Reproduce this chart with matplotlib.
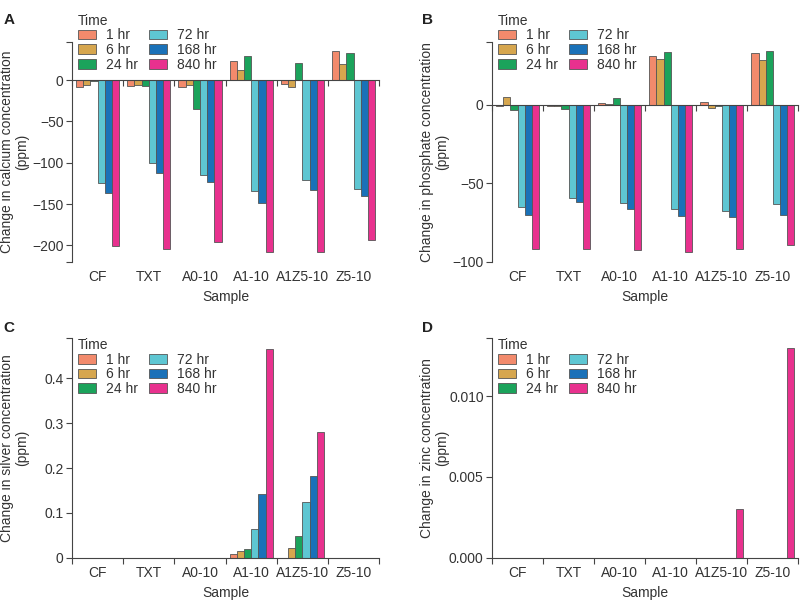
"""
Ion release over time per sample: calcium, phosphate, silver and zinc.
Four grouped bar panels (A-D), one bar per time point.
"""

import numpy as np
import matplotlib.pyplot as plt

plt.rcParams["font.family"] = ["Liberation Sans", "DejaVu Sans"]
plt.rcParams["font.size"] = 10

SAMPLES = ["CF", "TXT", "A0-10", "A1-10", "A1Z5-10", "Z5-10"]
TIMES = ["1 hr", "6 hr", "24 hr", "72 hr", "168 hr", "840 hr"]
COLORS = ["#F28A6C", "#D6A64E", "#1BA35B", "#5EC6D2", "#1A71B8", "#E8318E"]

# rows = time points, columns = samples
calcium = [
    [-8, -7.3, -8, 22.7, -4.5, 34.8],
    [-5.3, -5.3, -6, 11.7, -8.9, 19],
    [-1, -6.5, -34.8, 28.7, 20.6, 32.4],
    [-124.6, -100.3, -114.5, -134.3, -121.4, -131.9],
    [-136.3, -112.5, -123.4, -148.5, -133, -140.8],
    [-201, -205, -196, -208.3, -208, -193],
]
phosphate = [
    [-0.6, -0.6, 1.1, 31.4, 2.1, 33.3],
    [5.3, -1.0, 0.9, 29.3, -1.9, 28.8],
    [-3.4, -2.4, 4.7, 33.5, -0.6, 34.2],
    [-65.2, -59.6, -62.4, -66.2, -67.5, -63],
    [-70.1, -62, -66.5, -71, -71.4, -70.1],
    [-91.9, -91.9, -92.5, -94, -92.1, -89.5],
]
silver = [
    [0, 0, 0, 0.0074, 0, 0],
    [0, 0, 0, 0.0148, 0.0215, 0],
    [0, 0, 0, 0.019, 0.048, 0],
    [0, 0, 0, 0.063, 0.124, 0],
    [0, 0, 0, 0.142, 0.182, 0],
    [0, 0, 0, 0.465, 0.28, 0],
]
zinc = [
    [0, 0, 0, 0, 0, 0],
    [0, 0, 0, 0, 0, 0],
    [0, 0, 0, 0, 0, 0],
    [0, 0, 0, 0, 0, 0],
    [0, 0, 0, 0, 0, 0],
    [0, 0, 0, 0, 0.003, 0.0130],
]

calcium_ticks = [0, -50, -100, -150, -200]
calcium_ticklabels = ["0", "\u221250", "\u2212100", "\u2212150", "\u2212200"]
phosphate_ticks = [0, -50, -100]
phosphate_ticklabels = ["0", "\u221250", "\u2212100"]
silver_ticks = [0, 0.1, 0.2, 0.3, 0.4]
silver_ticklabels = ["0", "0.1", "0.2", "0.3", "0.4"]
zinc_ticks = [0, 0.005, 0.010]
zinc_ticklabels = ["0.000", "0.005", "0.010"]

PANELS = [
    ("A", calcium, "calcium", (-220, 46), calcium_ticks, calcium_ticklabels,
     [0.09, 0.565, 0.384, 0.365], 1.13),
    ("B", phosphate, "phosphate", (-100, 40), phosphate_ticks, phosphate_ticklabels,
     [0.615, 0.565, 0.383, 0.365], 1.13),
    ("C", silver, "silver", (0, 0.49), silver_ticks, silver_ticklabels,
     [0.09, 0.0736, 0.384, 0.365], 1.0),
    ("D", zinc, "zinc", (0, 0.0136), zinc_ticks, zinc_ticklabels,
     [0.615, 0.0736, 0.383, 0.365], 1.0),
]

TEXT_COL = "#333333"
AXIS_COL = "#444444"
EDGE_COL = "#555555"

fig = plt.figure(figsize=(8, 6.02), dpi=100)

x = np.arange(len(SAMPLES))
w = 0.14

for letter, data, ion, ylim, ticks, ticklabels, rect, leg_y in PANELS:
    ax = fig.add_axes(rect)
    for k, (vals, col, lab) in enumerate(zip(data, COLORS, TIMES)):
        ax.bar(x + (k - 2.5) * w, vals, w, color=col, edgecolor=EDGE_COL,
               linewidth=0.6, label=lab, zorder=2)

    ax.set_xlim(-0.5, len(SAMPLES) - 0.5)
    ax.set_ylim(*ylim)

    for side in ("top", "right"):
        ax.spines[side].set_visible(False)
    ax.spines["bottom"].set_position(("data", 0))
    for side in ("left", "bottom"):
        ax.spines[side].set_color(AXIS_COL)
        ax.spines[side].set_linewidth(0.8)
        ax.spines[side].set_zorder(3)

    # group boundary ticks on the zero line, labels at the bottom
    ax.set_xticks(np.arange(len(SAMPLES) + 1) - 0.5)
    ax.set_xticklabels([])
    ax.tick_params(axis="x", direction="out", length=4, width=0.8, color=AXIS_COL)
    for i, s in enumerate(SAMPLES):
        ax.text(i, -0.07, s, transform=ax.get_xaxis_transform(), ha="center",
                va="center", color=TEXT_COL, fontsize=10)
    ax.text(0.5, -0.16, "Sample", transform=ax.transAxes, ha="center",
            va="center", color=TEXT_COL, fontsize=10)

    # ticks at both ends of the y spine as well, without labels
    locs, labs = list(ticks), list(ticklabels)
    for end in ylim:
        if not any(np.isclose(end, t) for t in ticks):
            locs.append(end)
            labs.append("")
    ax.set_yticks(locs)
    ax.set_yticklabels(labs)
    ax.tick_params(axis="y", direction="out", length=4, width=0.8, color=AXIS_COL,
                   labelcolor=TEXT_COL, labelsize=10, pad=2)

    ax.set_ylabel(f"Change in {ion} concentration\n(ppm)", color=TEXT_COL,
                  fontsize=10, linespacing=1.1)
    ax.yaxis.set_label_coords(-0.14, 0.5)

    leg = ax.legend(title="Time", ncol=2, loc="upper left",
                    bbox_to_anchor=(0.02, leg_y), frameon=False, fontsize=10,
                    title_fontsize=10, alignment="left", borderpad=0,
                    borderaxespad=0, handlelength=1.3, handleheight=0.7,
                    handletextpad=0.7, columnspacing=0.8, labelspacing=0.05)
    for t in leg.get_texts():
        t.set_color(TEXT_COL)
    leg.get_title().set_color(TEXT_COL)

    fx = 0.004 if letter in "AC" else 0.528
    fy = 0.967 if letter in "AB" else 0.455
    fig.text(fx, fy, letter, fontsize=11, fontweight="bold", color="#222222",
             ha="left", va="center")

plt.savefig("out.png", dpi=100)
plt.close()
